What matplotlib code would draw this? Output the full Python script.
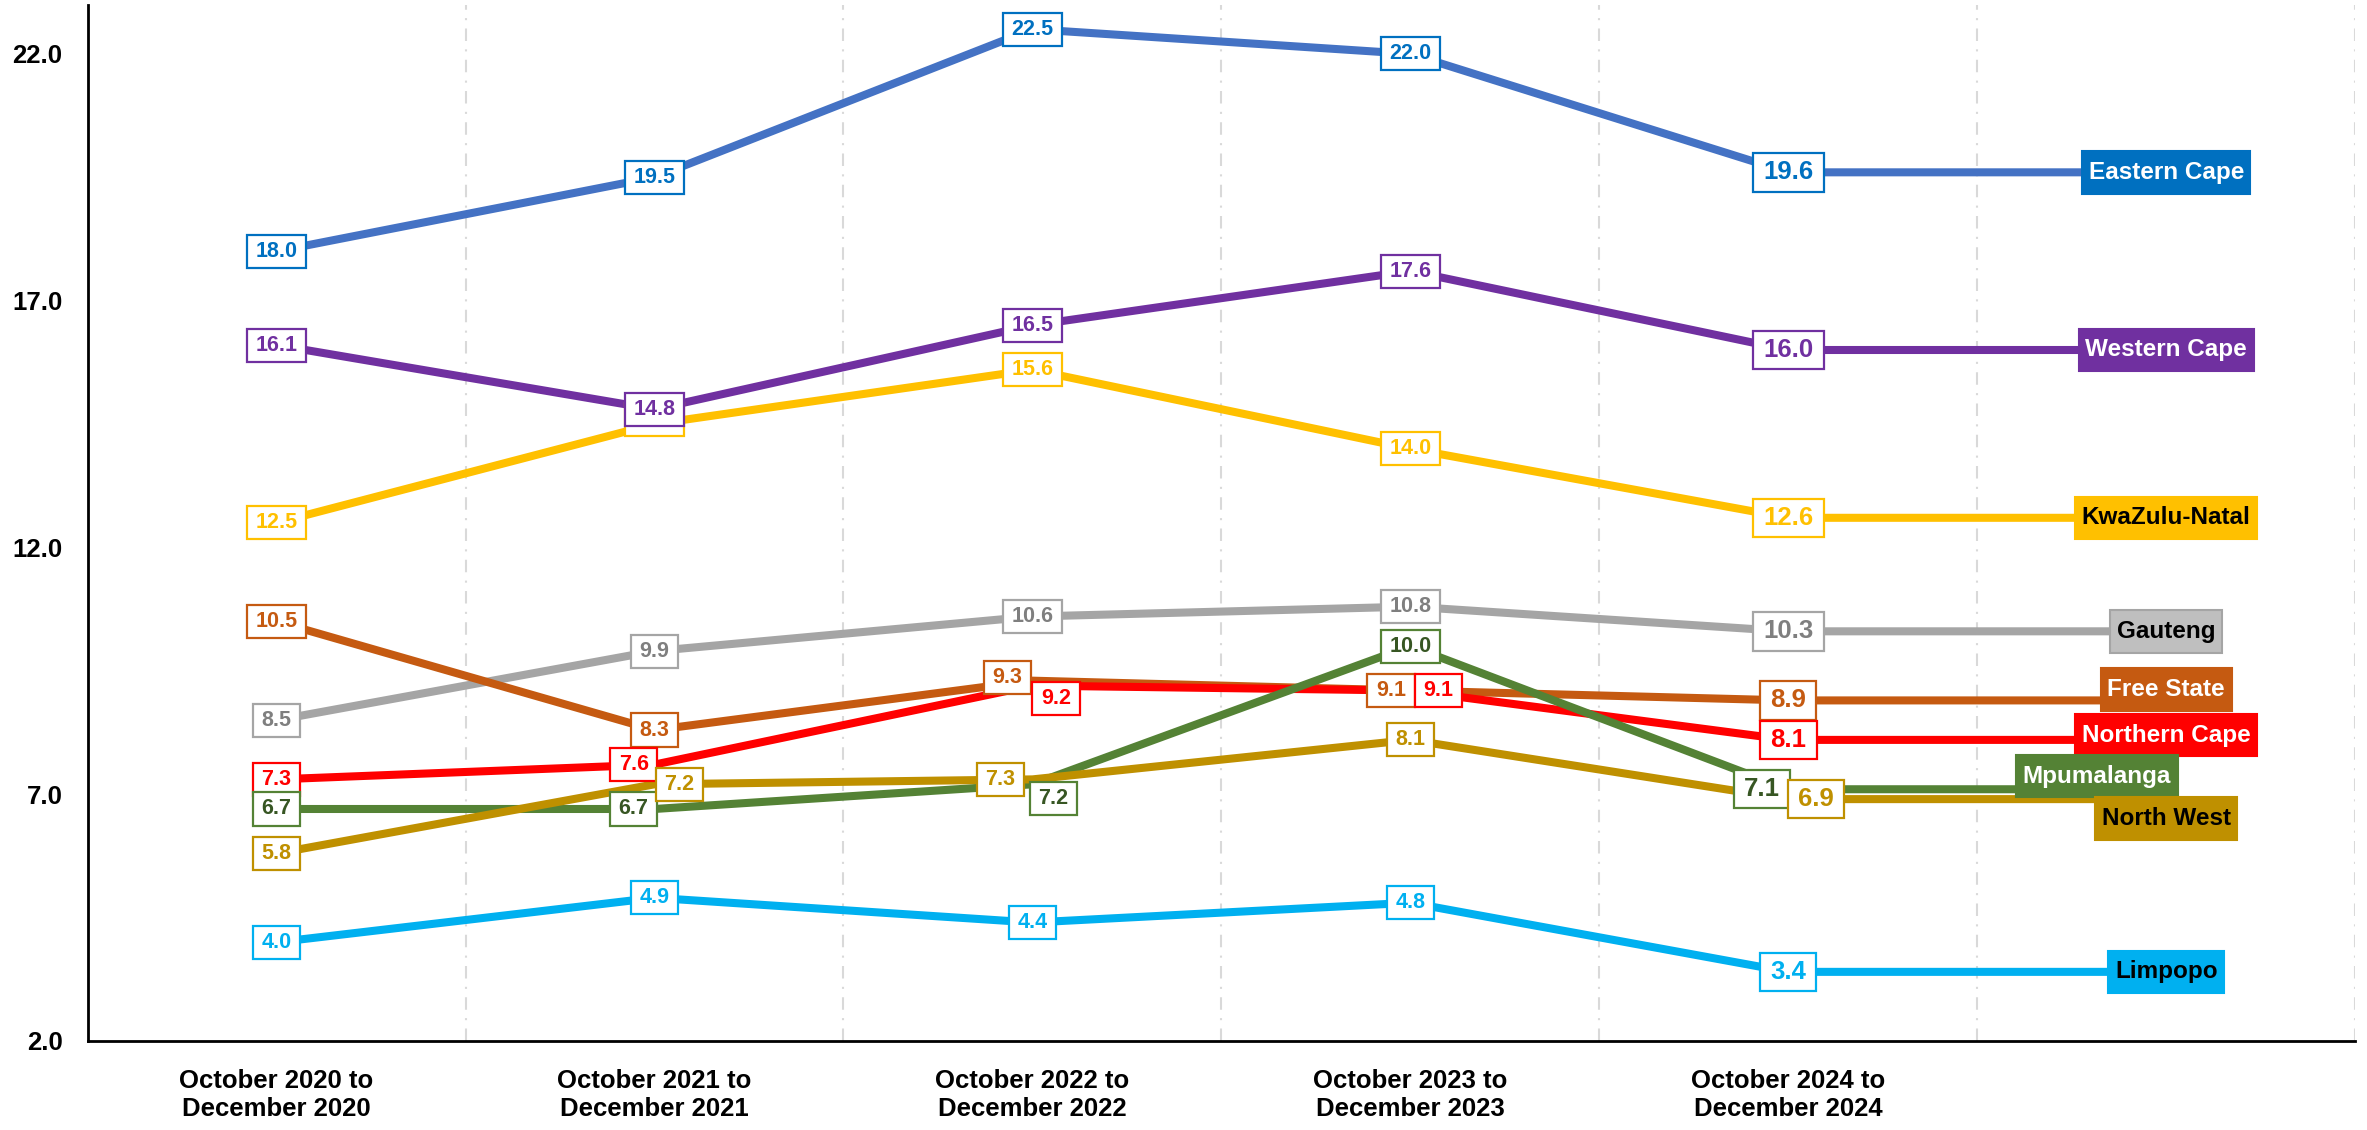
import matplotlib
matplotlib.use("Agg")
import matplotlib.pyplot as plt
from matplotlib.path import Path

# ---------------- data ----------------
categories = ["October 2020 to\nDecember 2020", "October 2021 to\nDecember 2021",
              "October 2022 to\nDecember 2022", "October 2023 to\nDecember 2023",
              "October 2024 to\nDecember 2024"]
tick_labels = categories + [""]
y_ticks = [2.0, 7.0, 12.0, 17.0, 22.0]

provinces = ["Eastern Cape", "KwaZulu-Natal", "Western Cape", "Gauteng", "Free State",
             "Northern Cape", "Mpumalanga", "North West", "Limpopo"]
eastern_cape = [18.0, 19.5, 22.5, 22.0, 19.6]
kwazulu_natal = [12.5, 14.5, 15.6, 14.0, 12.6]
western_cape = [16.1, 14.8, 16.5, 17.6, 16.0]
gauteng = [8.5, 9.9, 10.6, 10.8, 10.3]
free_state = [10.5, 8.3, 9.3, 9.1, 8.9]
northern_cape = [7.3, 7.6, 9.2, 9.1, 8.1]
mpumalanga = [6.7, 6.7, 7.2, 10.0, 7.1]
north_west = [5.8, 7.2, 7.3, 8.1, 6.9]
limpopo = [4.0, 4.9, 4.4, 4.8, 3.4]
series = [eastern_cape, kwazulu_natal, western_cape, gauteng, free_state,
          northern_cape, mpumalanga, north_west, limpopo]

# ---------------- styles ----------------
# line colour, value text colour, label fill, label text colour, label edge
styles = {
    "Eastern Cape": ("#4472C4", "#0070C0", "#0070C0", "white", "#0070C0"),
    "KwaZulu-Natal": ("#FFC000", "#FFC000", "#FFC000", "black", "#FFC000"),
    "Western Cape": ("#7030A0", "#7030A0", "#7030A0", "white", "#7030A0"),
    "Gauteng": ("#A5A5A5", "#7F7F7F", "#BFBFBF", "black", "#A5A5A5"),
    "Free State": ("#C55A11", "#C55A11", "#C55A11", "white", "#C55A11"),
    "Northern Cape": ("#FF0000", "#FF0000", "#FF0000", "white", "#FF0000"),
    "Mpumalanga": ("#548235", "#375623", "#548235", "white", "#548235"),
    "North West": ("#BF9000", "#BF9000", "#BF9000", "black", "#BF9000"),
    "Limpopo": ("#00B0F0", "#00B0F0", "#00B0F0", "black", "#00B0F0"),
}
value_offsets = {
    ("KwaZulu-Natal", 1): (0, 3),
    ("Northern Cape", 1): (-15, 0), ("Mpumalanga", 1): (-15, 0), ("North West", 1): (18, 0),
    ("Free State", 2): (-18, 2), ("Northern Cape", 2): (17, -9),
    ("North West", 2): (-23, 0), ("Mpumalanga", 2): (15, -10),
    ("Free State", 3): (-14, 0), ("Northern Cape", 3): (20, 0),
    ("Mpumalanga", 4): (-19, 0), ("North West", 4): (20, 0),
}
label_offsets = {
    "Free State": (0, 8), "Northern Cape": (0, 3.5),
    "Mpumalanga": (-50, 9.5), "North West": (0, -14),
}

FONT = ["Liberation Sans", "DejaVu Sans"]
plt.rcParams["font.family"] = FONT
plt.rcParams["font.weight"] = "bold"


def make_box(padx, pady):
    def box(x0, y0, width, height, mutation_size):
        px = padx * mutation_size
        py = pady * mutation_size
        x0 -= px
        y0 -= py
        w = width + 2 * px
        h = height + 2 * py
        return Path([(x0, y0), (x0 + w, y0), (x0 + w, y0 + h), (x0, y0 + h), (x0, y0)],
                    closed=True)
    return box


value_box = make_box(0.40, 0.28)
label_box = make_box(0.27, 0.40)

fig = plt.figure(figsize=(23.67, 11.30), dpi=100)
ax = fig.add_axes([0.037, 0.0788, 0.958, 0.9172])

x_all = list(range(len(tick_labels)))
for k, (name, vals) in enumerate(zip(provinces, series)):
    lc, tc, fc, ltc, ec = styles[name]
    ext = vals + [vals[-1]]
    ax.plot(x_all, ext, color=lc, lw=5.8, solid_capstyle="butt", zorder=3 + k * 0.01)
    for i, v in enumerate(vals):
        dx, dy = value_offsets.get((name, i), (0, 0))
        fs = 18.5 if i == len(vals) - 1 else 15.5
        ax.annotate(f"{v:.1f}", (i, v), xytext=(dx, dy), textcoords="offset points",
                    ha="center", va="center", fontsize=fs, fontweight="bold", color=tc,
                    zorder=10 + k,
                    bbox=dict(boxstyle=value_box, fc="white", ec=ec, lw=1.6))
    dx, dy = label_offsets.get(name, (0, 0))
    ax.annotate(name, (len(vals), vals[-1]), xytext=(dx, dy), textcoords="offset points",
                ha="center", va="center", fontsize=17.5, fontweight="bold", color=ltc,
                zorder=30 + k,
                bbox=dict(boxstyle=label_box, fc=fc, ec=ec, lw=1.5))

ax.set_xlim(-0.5, 5.5)
ax.set_ylim(2, 23)
ax.set_xticks(x_all)
ax.set_xticklabels(tick_labels, fontsize=18.5, fontweight="bold")
ax.set_yticks(y_ticks)
ax.set_yticklabels([f"{t:.1f}" for t in y_ticks], fontsize=18.5, fontweight="bold")
ax.tick_params(axis="both", length=0)
ax.tick_params(axis="x", pad=20)
ax.tick_params(axis="y", pad=18)

for gx in [0.5, 1.5, 2.5, 3.5, 4.5, 5.5]:
    ax.axvline(gx, color="#D9D9D9", lw=1.5, ls=(0, (6, 4, 1, 4)), zorder=1)

for s in ["top", "right"]:
    ax.spines[s].set_visible(False)
ax.spines["left"].set_linewidth(2)
ax.spines["bottom"].set_linewidth(2)

fig.savefig("out.png", dpi=100, facecolor="white")
